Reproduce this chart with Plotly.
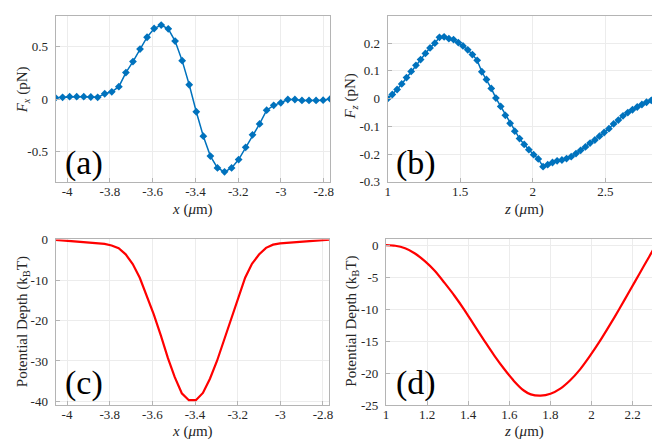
import plotly.graph_objects as go

# ---------------- data ----------------
# (a) transverse force F_x vs x
ax_x = [-4.054, -4.021, -3.988, -3.955, -3.922, -3.889, -3.857, -3.824, -3.791, -3.758,
        -3.725, -3.692, -3.659, -3.626, -3.593, -3.560, -3.527, -3.495, -3.462, -3.429,
        -3.396, -3.363, -3.330, -3.297, -3.264, -3.231, -3.198, -3.165, -3.133, -3.100,
        -3.067, -3.034, -3.001, -2.968, -2.935, -2.902, -2.869, -2.836, -2.803, -2.770]
ax_f = [0.013, 0.018, 0.024, 0.024, 0.024, 0.021, 0.018, 0.052, 0.070, 0.119,
        0.253, 0.357, 0.476, 0.588, 0.671, 0.704, 0.668, 0.552, 0.366, 0.137,
        -0.119, -0.351, -0.540, -0.652, -0.689, -0.652, -0.573, -0.457, -0.338, -0.235,
        -0.104, -0.058, -0.034, -0.003, -0.003, -0.012, -0.012, -0.012, -0.009, 0.003]

# (b) axial force F_z vs z
bz_z = [1.000, 1.032, 1.065, 1.097, 1.130, 1.162, 1.195, 1.227, 1.260, 1.292,
        1.325, 1.357, 1.389, 1.422, 1.454, 1.487, 1.519, 1.552, 1.584, 1.617,
        1.649, 1.681, 1.714, 1.746, 1.779, 1.811, 1.844, 1.876, 1.909, 1.941,
        1.973, 2.006, 2.038, 2.071, 2.103, 2.136, 2.168, 2.201, 2.233, 2.265,
        2.298, 2.330, 2.363, 2.395, 2.428, 2.460, 2.492, 2.525, 2.557, 2.590,
        2.622, 2.655, 2.687, 2.720, 2.752, 2.784, 2.817, 2.849, 2.882]
bz_f = [0.000, 0.015, 0.033, 0.053, 0.076, 0.098, 0.120, 0.141, 0.163, 0.183,
        0.200, 0.221, 0.223, 0.216, 0.213, 0.202, 0.190, 0.176, 0.159, 0.138,
        0.097, 0.069, 0.037, 0.002, -0.028, -0.060, -0.089, -0.117, -0.144, -0.165,
        -0.184, -0.202, -0.217, -0.245, -0.238, -0.230, -0.224, -0.221, -0.216, -0.209,
        -0.198, -0.186, -0.174, -0.160, -0.149, -0.135, -0.122, -0.108, -0.091, -0.077,
        -0.062, -0.050, -0.040, -0.030, -0.021, -0.013, -0.006, -0.002, 0.000]

# (c) potential depth vs x
cx_x = ax_x
cx_u = [0.0, -0.15, -0.3, -0.45, -0.6, -0.7, -0.85, -1.0, -1.4, -2.1,
        -3.6, -6.0, -9.4, -13.8, -18.5, -23.7, -29.3, -34.0, -38.0, -39.7,
        -39.7, -37.9, -34.4, -30.0, -24.9, -19.7, -14.2, -9.4, -5.96, -3.66,
        -2.0, -1.2, -0.87, -0.72, -0.56, -0.4, -0.24, -0.08, 0.0, 0.05]

# (d) potential depth vs z
dz_z = [1.000, 1.045, 1.093, 1.141, 1.189, 1.237, 1.285, 1.333, 1.381, 1.429,
        1.478, 1.526, 1.574, 1.622, 1.670, 1.704, 1.752, 1.800, 1.848, 1.896,
        1.944, 1.992, 2.040, 2.088, 2.136, 2.184, 2.232, 2.280, 2.328]
dz_u = [0.0, -0.1, -0.5, -1.3, -2.5, -4.0, -5.9, -7.9, -10.1, -12.5,
        -14.9, -17.2, -19.3, -21.2, -22.7, -23.3, -23.5, -23.2, -22.4, -21.1,
        -19.4, -17.3, -15.0, -12.5, -9.9, -7.2, -4.5, -1.8, 0.9]

# tick labels
xa_ticks = [-4, -3.8, -3.6, -3.4, -3.2, -3, -2.8]
xa_text = ["-4", "-3.8", "-3.6", "-3.4", "-3.2", "-3", "-2.8"]
ya_ticks = [-0.5, 0, 0.5]
ya_text = ["-0.5", "0", "0.5"]
xb_ticks = [1, 1.5, 2, 2.5]
xb_text = ["1", "1.5", "2", "2.5"]
yb_ticks = [-0.3, -0.2, -0.1, 0, 0.1, 0.2]
yb_text = ["-0.3", "-0.2", "-0.1", "0", "0.1", "0.2"]
yc_ticks = [-40, -30, -20, -10, 0]
yc_text = ["-40", "-30", "-20", "-10", "0"]
xd_ticks = [1, 1.2, 1.4, 1.6, 1.8, 2, 2.2]
xd_text = ["1", "1.2", "1.4", "1.6", "1.8", "2", "2.2"]
yd_ticks = [-25, -20, -15, -10, -5, 0]
yd_text = ["-25", "-20", "-15", "-10", "-5", "0"]

panel_labels = ["(a)", "(b)", "(c)", "(d)"]
x_titles = ["<i>x</i> (<i>μ</i>m)", "<i>z</i> (<i>μ</i>m)",
            "<i>x</i> (<i>μ</i>m)", "<i>z</i> (<i>μ</i>m)"]
y_titles = ["<i>F</i><sub><i>x</i></sub> (pN)", "<i>F</i><sub><i>z</i></sub> (pN)",
            "Potential Depth (k<sub>B</sub>T)", "Potential Depth (k<sub>B</sub>T)"]

# ---------------- figure ----------------
W, H = 660, 440
BLUE = "#0072BD"
RED = "#FF0000"
FONT = "Liberation Serif"
TXT = "#262626"

fig = go.Figure()

fig.add_trace(go.Scatter(x=ax_x, y=ax_f, mode="lines+markers", xaxis="x", yaxis="y",
                         line=dict(color=BLUE, width=1.5),
                         marker=dict(symbol="diamond", size=6, color=BLUE),
                         showlegend=False))
fig.add_trace(go.Scatter(x=bz_z, y=bz_f, mode="lines+markers", xaxis="x2", yaxis="y2",
                         line=dict(color=BLUE, width=1.5),
                         marker=dict(symbol="diamond", size=6, color=BLUE),
                         showlegend=False))
fig.add_trace(go.Scatter(x=cx_x, y=cx_u, mode="lines", xaxis="x3", yaxis="y3",
                         line=dict(color=RED, width=2.2),
                         showlegend=False))
fig.add_trace(go.Scatter(x=dz_z, y=dz_u, mode="lines", xaxis="x4", yaxis="y4",
                         line=dict(color=RED, width=2.2, shape="spline", smoothing=0.8),
                         showlegend=False))


def px_x(p):
    return p / W


def px_y(p):
    return 1 - p / H


axis_common = dict(showline=True, mirror=True, linecolor="#b4b4b4", linewidth=1,
                   ticks="inside", ticklen=4, tickcolor="#b4b4b4",
                   showgrid=True, gridcolor="#ececec", gridwidth=1,
                   zeroline=False, tickfont=dict(family=FONT, size=13, color=TXT))

dom_a_x = [px_x(45), px_x(322.5)]
dom_b_x = [px_x(380.7), px_x(656.7)]
dom_c_x = [px_x(45), px_x(321.7)]
dom_d_x = [px_x(379), px_x(655)]
dom_top_y = [px_y(172.8), px_y(1)]
dom_bot_y = [px_y(404), px_y(232.3)]

fig.update_layout(
    width=W, height=H,
    margin=dict(l=0, r=0, t=0, b=0),
    paper_bgcolor="white", plot_bgcolor="white",
    font=dict(family=FONT, size=13, color=TXT),
    xaxis=dict(domain=dom_a_x, anchor="y", range=[-4.054, -2.7705],
               tickvals=xa_ticks, ticktext=xa_text, ticklabelstandoff=-3, **axis_common),
    yaxis=dict(domain=dom_top_y, anchor="x", range=[-0.785, 0.79],
               tickvals=ya_ticks, ticktext=ya_text, ticklabelstandoff=4, **axis_common),
    xaxis2=dict(domain=dom_b_x, anchor="y2", range=[1, 2.882],
                tickvals=xb_ticks, ticktext=xb_text, ticklabelstandoff=-3, **axis_common),
    yaxis2=dict(domain=dom_top_y, anchor="x2", range=[-0.3, 0.298],
                tickvals=yb_ticks, ticktext=yb_text, ticklabelstandoff=4, **axis_common),
    xaxis3=dict(domain=dom_c_x, anchor="y3", range=[-4.054, -2.7705],
                tickvals=xa_ticks, ticktext=xa_text, ticklabelstandoff=-3, **axis_common),
    yaxis3=dict(domain=dom_bot_y, anchor="x3", range=[-40.95, 0.1],
                tickvals=yc_ticks, ticktext=yc_text, ticklabelstandoff=4, **axis_common),
    xaxis4=dict(domain=dom_d_x, anchor="y4", range=[1, 2.328],
                tickvals=xd_ticks, ticktext=xd_text, ticklabelstandoff=-3, **axis_common),
    yaxis4=dict(domain=dom_bot_y, anchor="x4", range=[-25, 0.9],
                tickvals=yd_ticks, ticktext=yd_text, ticklabelstandoff=4, **axis_common),
)

# axis titles (placed as text at the reference positions)
x_title_pos = [(183.5, 201), (518, 201), (183.5, 431), (518, 431)]
for txt, (tx, ty) in zip(x_titles, x_title_pos):
    fig.add_annotation(text=txt, x=px_x(tx), y=px_y(ty), xref="paper", yref="paper",
                       showarrow=False, xanchor="center", yanchor="middle",
                       font=dict(family=FONT, size=15, color=TXT))
y_title_pos = [(1, 77), (333, 84), (1, 317), (334, 317)]
for txt, (tx, ty) in zip(y_titles, y_title_pos):
    fig.add_annotation(text=txt, x=px_x(tx), y=px_y(ty), xref="paper", yref="paper",
                       showarrow=False, xanchor="left", yanchor="middle", textangle=-90,
                       font=dict(family=FONT, size=15, color=TXT))

label_pos = [(74, 153), (409, 153), (74, 381), (409, 381)]
for txt, (lx, ly) in zip(panel_labels, label_pos):
    fig.add_annotation(text=txt, x=px_x(lx), y=px_y(ly), xref="paper", yref="paper",
                       showarrow=False, xanchor="center", yanchor="middle",
                       font=dict(family=FONT, size=34, color="black"))

fig.write_html("out.html")
